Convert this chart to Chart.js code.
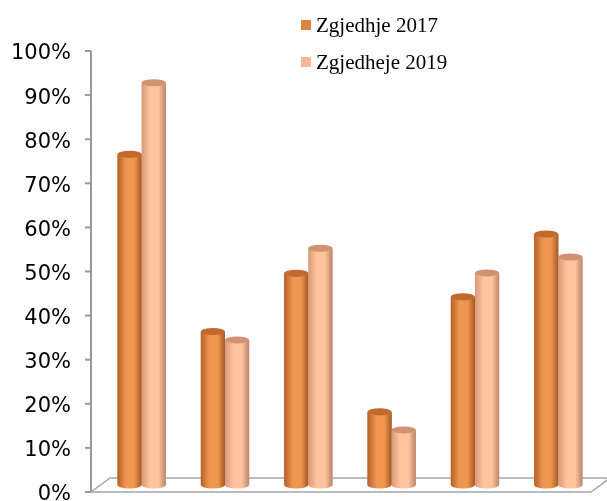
<!DOCTYPE html>
<html>
<head>
<meta charset="utf-8">
<script src="https://cdn.jsdelivr.net/npm/chart.js@4"></script>
<style>
html,body{margin:0;padding:0;background:#fff;}
#wrap{position:relative;width:607px;height:501px;}
#legend{position:absolute;left:301px;top:6px;font-family:"Liberation Serif","Times New Roman",serif;font-size:21px;line-height:24px;color:#000;}
#legend .item{display:flex;align-items:center;height:37px;}
#legend .sw{width:10px;height:10px;margin-right:5px;}
</style>
</head>
<body>
<div id="wrap">
<canvas id="c" width="607" height="501"></canvas>
<div id="legend"></div>
</div>
<script>
const categories = ['1', '2', '3', '4', '5', '6'];
const seriesLabels = ['Zgjedhje 2017', 'Zgjedheje 2019'];
const values2017 = [75.0, 34.8, 48.0, 16.6, 42.7, 56.9];
const values2019 = [91.2, 32.9, 53.7, 12.5, 48.1, 51.7];
const yTicks = [0, 10, 20, 30, 40, 50, 60, 70, 80, 90, 100];

const colors = ['#DA8440', '#F9B792'];
const shades = [
  {edgeL:'#b4602a', mid:'#ee9550', edgeR:'#a65826', cap:'#c26a2e'},
  {edgeL:'#d89a7a', mid:'#ffc39e', edgeR:'#b8846a', cap:'#d09272'}
];
const DEPTH = 7; // 3D depth shift of the bar row

const legend = document.getElementById('legend');
seriesLabels.forEach((l, i) => {
  const d = document.createElement('div'); d.className = 'item';
  const s = document.createElement('span'); s.className = 'sw'; s.style.background = colors[i];
  const t = document.createElement('span'); t.textContent = l;
  d.appendChild(s); d.appendChild(t); legend.appendChild(d);
});

const deco = {
  id: 'deco',
  beforeDatasetsDraw(chart) {
    const ctx = chart.ctx, ys = chart.scales.y, ca = chart.chartArea;
    const y0 = ys.getPixelForValue(0);
    const ax = ca.left - 9;
    ctx.save();
    ctx.beginPath();
    ctx.moveTo(ax, y0);
    ctx.lineTo(ax + 19, y0 - 14);
    ctx.lineTo(ca.right + 10, y0 - 14);
    ctx.lineTo(ca.right - 9, y0);
    ctx.closePath();
    ctx.fillStyle = '#ffffff';
    ctx.fill();
    ctx.strokeStyle = '#a6a6a6';
    ctx.lineWidth = 1.5;
    ctx.stroke();
    ctx.beginPath();
    ctx.moveTo(ax, ys.getPixelForValue(100));
    ctx.lineTo(ax, y0);
    ctx.strokeStyle = '#999999';
    ctx.lineWidth = 2;
    ctx.stroke();
    ys.ticks.forEach(t => {
      const py = ys.getPixelForValue(t.value);
      ctx.beginPath();
      ctx.moveTo(ax - 6, py);
      ctx.lineTo(ax, py);
      ctx.stroke();
    });
    ctx.restore();
    ctx.save();
    ctx.translate(0, -DEPTH);
  },
  afterDatasetsDraw(chart) {
    const ctx = chart.ctx;
    chart.data.datasets.forEach((ds, di) => {
      const meta = chart.getDatasetMeta(di);
      const sh = shades[di];
      meta.data.forEach(el => {
        const {x, y, base, width} = el.getProps(['x', 'y', 'base', 'width'], true);
        const l = x - width / 2, r = x + width / 2, rx = width / 2, ry = 3.5;
        const g = ctx.createLinearGradient(l, 0, r, 0);
        g.addColorStop(0, sh.edgeL);
        g.addColorStop(0.35, sh.mid);
        g.addColorStop(0.7, sh.mid);
        g.addColorStop(1, sh.edgeR);
        ctx.save();
        ctx.beginPath();
        ctx.moveTo(l, y);
        ctx.lineTo(l, base);
        ctx.ellipse(x, base, rx, ry, 0, Math.PI, 0, true);
        ctx.lineTo(r, y);
        ctx.ellipse(x, y, rx, ry, 0, 0, Math.PI, false);
        ctx.closePath();
        ctx.fillStyle = g;
        ctx.fill();
        ctx.beginPath();
        ctx.ellipse(x, y, rx, ry, 0, 0, Math.PI * 2);
        ctx.fillStyle = sh.cap;
        ctx.fill();
        ctx.restore();
      });
    });
    ctx.restore();
  }
};

new Chart(document.getElementById('c'), {
  type: 'bar',
  data: {
    labels: categories,
    datasets: [
      {label: seriesLabels[0], data: values2017, backgroundColor: colors[0], borderWidth: 0},
      {label: seriesLabels[1], data: values2019, backgroundColor: colors[1], borderWidth: 0}
    ]
  },
  options: {
    responsive: false,
    animation: false,
    devicePixelRatio: 1,
    layout: {padding: {left: 0, right: 7, top: 51, bottom: 9}},
    plugins: {legend: {display: false}, tooltip: {enabled: false}},
    datasets: {bar: {categoryPercentage: 0.58, barPercentage: 1.0}},
    scales: {
      x: {display: false},
      y: {
        min: 0, max: 100,
        afterFit(scale) { scale.width = 100; scale.paddingTop = 0; scale.paddingBottom = 0; },
        afterBuildTicks(scale) { scale.ticks = yTicks.map(v => ({value: v})); },
        grid: {display: false, drawTicks: false},
        border: {display: false},
        ticks: {
          padding: 29,
          labelOffset: 3,
          color: '#000',
          font: {family: '"DejaVu Sans", Verdana, sans-serif', size: 21},
          callback: v => v + '%'
        }
      }
    }
  },
  plugins: [deco]
});
</script>
</body>
</html>
